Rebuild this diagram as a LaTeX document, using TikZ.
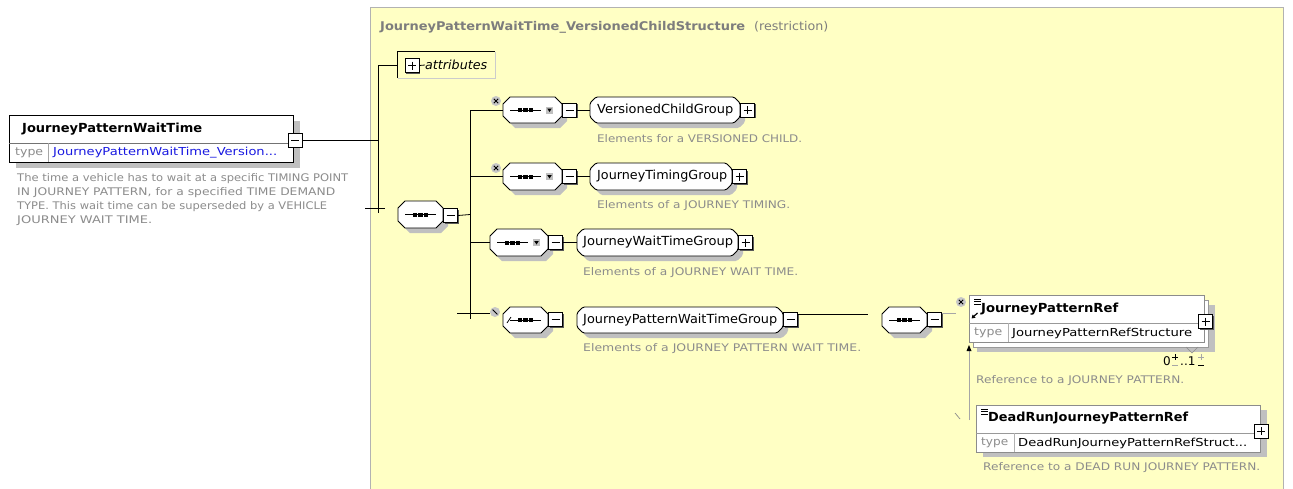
\documentclass[tikz,border=0pt]{standalone}
\usepackage{fontspec}
\setmainfont{DejaVu Sans}
\usepackage{graphicx}
\usetikzlibrary{shadows,arrows.meta}
\definecolor{bgy}{RGB}{255,255,196}
\definecolor{txg}{RGB}{140,140,140}
\definecolor{ttg}{RGB}{125,125,125}
\definecolor{lnk}{RGB}{25,25,225}
\definecolor{shd}{RGB}{192,192,192}
\newcommand\fw[2]{\resizebox{#1pt}{\height}{#2}}
\newcommand\fsz[1]{\fontsize{#1pt}{#1pt}\selectfont}
\tikzset{
  ln/.style={line width=0.8pt, draw=black},
  octline/.style={draw=black, line width=0.9pt, fill=white},
  pmbox/.style={draw=black, line width=1pt, fill=white, minimum size=14pt, inner sep=0pt,
     drop shadow={shadow xshift=1.3pt, shadow yshift=-1.3pt, fill=black!65, opacity=1}},
  minusb/.style={pmbox, path picture={\draw[line width=.9pt] ([xshift=3pt]path picture bounding box.west) -- ([xshift=-3pt]path picture bounding box.east);}},
  plusb/.style={pmbox, path picture={\draw[line width=.9pt] ([xshift=3pt]path picture bounding box.west) -- ([xshift=-3pt]path picture bounding box.east);
     \draw[line width=.9pt] ([yshift=-3pt]path picture bounding box.north) -- ([yshift=3pt]path picture bounding box.south);}},
  xmark/.style={circle, fill=black!22, minimum size=10pt, inner sep=0pt,
     path picture={\draw[line width=.9pt] ([shift={(-2.2pt,-2.2pt)}]path picture bounding box.center) -- ([shift={(2.2pt,2.2pt)}]path picture bounding box.center);
       \draw[line width=.9pt] ([shift={(-2.2pt,2.2pt)}]path picture bounding box.center) -- ([shift={(2.2pt,-2.2pt)}]path picture bounding box.center);}},
  slmark/.style={circle, fill=black!22, minimum size=10pt, inner sep=0pt,
     path picture={\draw[line width=.9pt] ([shift={(-2.4pt,2.4pt)}]path picture bounding box.center) -- ([shift={(2.4pt,-2.4pt)}]path picture bounding box.center);}},
  txt/.style={inner sep=0pt, anchor=west},
  desc/.style={txt, text=txg, font=\fsz{10.5}},
  gtxt/.style={txt, text=black, font=\fsz{12.5}},
  elbox/.style={draw=black, line width=0.9pt, fill=white, inner sep=0pt},
  refbox/.style={draw=black!45, line width=0.8pt, fill=white, inner sep=0pt},
}
% octagon node: name, cx, cy, w, h, chamfer, rounding
\newcommand\octnode[7]{%
  \pgfmathsetmacro\oxa{#2-#4/2}\pgfmathsetmacro\oxb{#2+#4/2}%
  \pgfmathsetmacro\oya{#3-#5/2}\pgfmathsetmacro\oyb{#3+#5/2}%
  \fill[shd, rounded corners=#7, xshift=5pt, yshift=-5pt] ({\oxa+#6},\oya) -- ({\oxb-#6},\oya) -- (\oxb,{\oya+#6}) -- (\oxb,{\oyb-#6}) -- ({\oxb-#6},\oyb) -- ({\oxa+#6},\oyb) -- (\oxa,{\oyb-#6}) -- (\oxa,{\oya+#6}) -- cycle;
  \draw[octline, rounded corners=#7] ({\oxa+#6},\oya) -- ({\oxb-#6},\oya) -- (\oxb,{\oya+#6}) -- (\oxb,{\oyb-#6}) -- ({\oxb-#6},\oyb) -- ({\oxa+#6},\oyb) -- (\oxa,{\oyb-#6}) -- (\oxa,{\oya+#6}) -- cycle;
  \node[inner sep=0pt, minimum width=#4pt, minimum height=#5pt] (#1) at (#2,#3) {};}
\newcommand\seqic[3]{%
  \draw[line width=.9pt] (#1,#3) -- (#2,#3);
  \fill ({(#1+#2)/2-7.5},{#3-2}) rectangle ++(4.4,4);
  \fill ({(#1+#2)/2-2.2},{#3-2}) rectangle ++(4.4,4);
  \fill ({(#1+#2)/2+3.1},{#3-2}) rectangle ++(4.4,4);}
\newcommand\ddic[2]{%
  \fill[black!25] (#1,{#2-3.5}) rectangle ++(7,7);
  \fill ({#1+1.2},{#2-1.5}) -- ({#1+5.8},{#2-1.5}) -- ({#1+3.5},{#2+2}) -- cycle;}
\begin{document}
\begin{tikzpicture}[x=1pt,y=-1pt]
\useasboundingbox (0,0) rectangle (1293,488);
\fill[white] (0,0) rectangle (1293,488);
% frame
\fill[bgy] (370,7) rectangle (1283,495);
\draw[black!30, line width=0.8pt] (370,495) -- (370,7) -- (1283,7) -- (1283,495);
\node[txt, text=ttg] (ftitle) at (380,27) {\fw{365}{\fsz{12}\bfseries JourneyPatternWaitTime\_VersionedChildStructure}\hspace{9pt}\fw{74}{\fsz{12}(restriction)}};

% left element
\fill[shd] (16,121) rectangle (300,168);
\node[elbox, minimum width=284pt, minimum height=47pt] (el) at (151,138.5) {};
\draw[black!55, line width=0.6pt] (9,143) -- (293,143);
\draw[black!35, line width=0.6pt] (48,143) -- (48,162);
\node[txt, font=\fsz{12.5}\bfseries] (eltitle) at (22,129) {\fw{180}{JourneyPatternWaitTime}};
\node[txt, text=txg, font=\fsz{11}] (eltype) at (15,153) {\fw{28}{type}};
\node[txt, text=lnk, font=\fsz{11}] (eltypev) at (53,153) {\fw{224}{JourneyPatternWaitTime\_Version...}};
\node[minusb] (em) at (295,140) {};
\node[inner sep=0pt, anchor=north west, align=left, text=txg, font=\fontsize{10.5pt}{14pt}\selectfont] (eldesc) at (17,173)
 {\fw{331}{The time a vehicle has to wait at a specific TIMING POINT}\\
  \fw{318}{IN JOURNEY PATTERN, for a specified TIME DEMAND}\\
  \fw{310}{TYPE. This wait time can be superseded by a VEHICLE}\\
  \fw{135}{JOURNEY WAIT TIME.}};

% trunk
\coordinate (vt) at (378,65);
\coordinate (vb) at (378,213);
\coordinate (vj) at (378,140);
\draw[ln] (em.east) -- (vj);
\draw[ln] (vt) -- (vb);
\coordinate (stl) at (365,208);
\coordinate (str) at (385,208);
\draw[ln] (stl) -- (str);

% attributes
\node[inner sep=0pt, minimum width=97pt, minimum height=26pt] (attr) at (446.5,65) {};
\draw[black!20, line width=0.8pt] (attr.north east) -- (attr.south east) -- (attr.south west);
\draw[ln] (attr.south west) -- (attr.north west) -- (attr.north east);
\draw[ln] (vt) -- (attr.west);
\node[plusb] (attrp) at (412,65.5) {};
\node[txt, font=\fsz{12.5}\itshape] (attrt) at (425,65) {\fw{62}{attributes}};
\draw[ln] (attrp.east) -- (attrt.west);

% top-level sequence
\octnode{s0}{420.5}{214.5}{45}{27}{7}{0pt}
\seqic{405}{436}{214.5}
\node[minusb] (m0) at (450.5,215.5) {};
\coordinate (bj) at (470,214.5);
\draw[ln] (m0.east) -- (bj);
\coordinate (bt) at (470,110);
\coordinate (bb) at (470,319);
\draw[ln] (bt) -- (bb);

% branch 1
\octnode{c1}{532.5}{110}{59}{26}{7}{0pt}
\seqic{510}{541}{110}
\ddic{546}{110}
\node[minusb] (m1) at (569.5,110) {};
\node[xmark] (x1) at (496,101) {};
\draw[ln] (bt) -- (c1.west);
\octnode{g1}{665}{110}{150}{26}{6}{1.5pt}
\node[gtxt] (g1t) at (597,110) {\fw{136}{VersionedChildGroup}};
\node[plusb] (p1) at (747.5,110) {};
\draw[ln] (m1.east) -- (g1.west);
\node[desc] (d1) at (597,139) {\fw{205}{Elements for a VERSIONED CHILD.}};

% branch 2
\coordinate (b2) at (470,176.5);
\octnode{c2}{532.5}{176.5}{59}{27}{7}{0pt}
\seqic{510}{541}{176.5}
\ddic{546}{176.5}
\node[minusb] (m2) at (569.5,176.5) {};
\node[xmark] (x2) at (496,168) {};
\draw[ln] (b2) -- (c2.west);
\octnode{g2}{661}{176.5}{142}{27}{6}{1.5pt}
\node[gtxt] (g2t) at (597,176.5) {\fw{130}{JourneyTimingGroup}};
\node[plusb] (p2) at (739.5,176.5) {};
\draw[ln] (m2.east) -- (g2.west);
\node[desc] (d2) at (597,206) {\fw{193}{Elements of a JOURNEY TIMING.}};

% branch 3
\coordinate (b3) at (470,242.5);
\octnode{c3}{519}{242.5}{58}{27}{7}{0pt}
\seqic{497}{528}{242.5}
\ddic{533}{242.5}
\node[minusb] (m3) at (555.5,242.5) {};
\draw[ln] (b3) -- (c3.west);
\octnode{g3}{657.5}{242.5}{161}{27}{6}{1.5pt}
\node[gtxt] (g3t) at (583,242.5) {\fw{150}{JourneyWaitTimeGroup}};
\node[plusb] (p3) at (745.5,242.5) {};
\draw[ln] (m3.east) -- (g3.west);
\node[desc] (d3) at (583,273) {\fw{215}{Elements of a JOURNEY WAIT TIME.}};

% branch 4
\coordinate (b4l) at (457,313);
\coordinate (b4r) at (490,313);
\draw[ln] (b4l) -- (b4r);
\node[slmark] (x4) at (495,312) {};
\octnode{c4}{525.5}{320}{45}{26}{7}{0pt}
\draw[line width=.8pt] (507,323) -- (511,317);
\seqic{510}{541}{320}
\node[minusb] (m4) at (555.5,319.5) {};
\octnode{g4}{680}{320}{206}{26}{6}{1.5pt}
\node[gtxt] (g4t) at (583,320) {\fw{194}{JourneyPatternWaitTimeGroup}};
\node[minusb] (m4g) at (790.5,319.5) {};
\node[desc] (d4) at (583,349) {\fw{278}{Elements of a JOURNEY PATTERN WAIT TIME.}};
\coordinate (l4e) at (868,314);
\draw[ln] ([yshift=5.5pt]m4g.east) -- (l4e);

% inner sequence
\octnode{s5}{904.5}{320}{45}{26}{7}{0pt}
\seqic{889}{920}{320}
\node[minusb] (m5) at (934.5,319.5) {};
\coordinate (l5e) at (956,313);
\draw[black!35, line width=0.7pt] ([yshift=6.5pt]m5.east) -- (l5e);
\node[xmark] (x5) at (961,302) {};

% JourneyPatternRef (stacked)
\fill[shd] (977,305) rectangle (1215,352);
\draw[black!40, line width=0.7pt, fill=white] (973,300) rectangle (1208,347);
\node[refbox, minimum width=235pt, minimum height=47pt] (jpr) at (1086.5,318.5) {};
\draw[black!40, line width=0.6pt] (969,323) -- (1204,323);
\draw[black!30, line width=0.6pt] (1008,323) -- (1008,342);
\draw[black!45, line width=0.6pt] (1186,347) -- (1192,353) -- (1198,347);
\draw[line width=.7pt] (974,299) -- (981,299) (974,301.5) -- (981,301.5) (974,304) -- (981,304);
\draw[-{Triangle[length=3.5pt,width=4pt]}, line width=1.2pt] (977.5,313) -- (971.5,318.5);
\node[txt, font=\fsz{12.5}\bfseries] (jprt) at (981,309) {\fw{137}{JourneyPatternRef}};
\node[txt, text=txg, font=\fsz{11}] (jprty) at (974,333) {\fw{28}{type}};
\node[txt, font=\fsz{11}] (jprtv) at (1012,333) {\fw{180}{JourneyPatternRefStructure}};
\node[plusb] (jprp) at (1205.5,321.5) {};
\node[txt, font=\fsz{12}] (mult0) at (1163,361) {0};
\draw[line width=.7pt] (1172,357) -- (1178,357) (1175,354) -- (1175,360);
\draw[black!35, line width=.7pt] (1172,365) -- (1178,365);
\node[txt, font=\fsz{12}] (mult1) at (1180,361) {..1};
\draw[black!35, line width=.7pt] (1198,357) -- (1204,357) (1201,354) -- (1201,360);
\draw[line width=.7pt] (1198,365) -- (1204,365);
\node[desc] (d5) at (976,381) {\fw{208}{Reference to a JOURNEY PATTERN.}};

% DeadRunJourneyPatternRef
\fill[shd] (983,410) rectangle (1267,457);
\node[refbox, minimum width=284pt, minimum height=47pt] (drr) at (1118,428.5) {};
\draw[black!40, line width=0.6pt] (976,433) -- (1260,433);
\draw[black!30, line width=0.6pt] (1014,433) -- (1014,452);
\draw[line width=.7pt] (981,409) -- (988,409) (981,411.5) -- (988,411.5) (981,414) -- (988,414);
\node[txt, font=\fsz{12.5}\bfseries] (drrt) at (988,418) {\fw{200}{DeadRunJourneyPatternRef}};
\node[txt, text=txg, font=\fsz{11}] (drrty) at (981,443) {\fw{27}{type}};
\node[txt, font=\fsz{11}] (drrtv) at (1018,443) {\fw{229}{DeadRunJourneyPatternRefStruct...}};
\node[plusb] (drrp) at (1261,431) {};
\node[desc] (d6) at (983,468) {\fw{277}{Reference to a DEAD RUN JOURNEY PATTERN.}};

% substitution arrow
\coordinate (arb) at (969,420);
\draw[black!35, line width=0.7pt] (arb) -- (969,350);
\fill (969,345) -- (966.5,351) -- (971.5,351) -- cycle;
\coordinate (sl1) at (955,413);
\coordinate (sl2) at (960,419);
\draw[black!45, line width=0.7pt] (sl1) -- (sl2);
\end{tikzpicture}
\end{document}
